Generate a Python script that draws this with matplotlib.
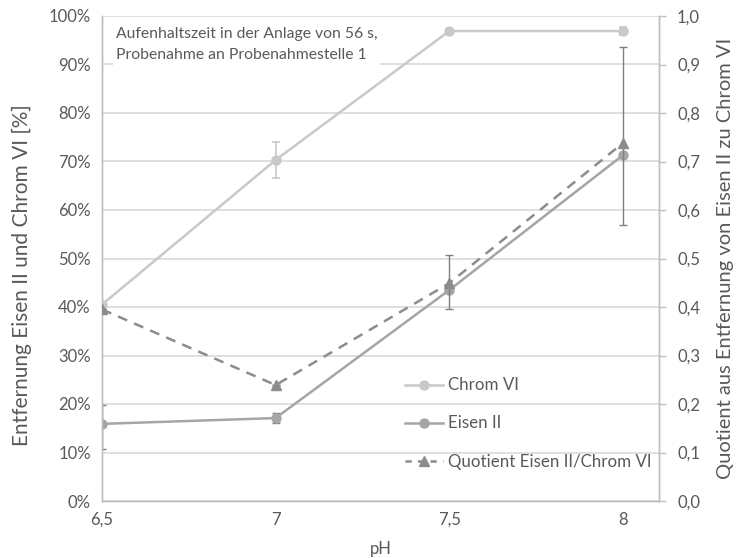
import matplotlib
matplotlib.use("Agg")
import matplotlib.pyplot as plt
from matplotlib.ticker import FixedLocator, FuncFormatter
from matplotlib.lines import Line2D

plt.rcParams['font.family'] = ['Lato', 'DejaVu Sans']

ph = [6.5, 7.0, 7.5, 8.0]
chrom = [40.5, 70.3, 96.9, 96.9]
chrom_err = [0.0, 3.7, 0.0, 0.8]
eisen = [15.9, 17.1, 43.5, 71.3]
eisen_err_low = [5.2, 1.1, 0.0, 0.0]
eisen_err_high = [3.9, 1.1, 0.0, 0.0]
quot = [0.395, 0.239, 0.449, 0.738]
quot_err_low = [0.0, 0.0, 0.053, 0.169]
quot_err_high = [0.0, 0.0, 0.058, 0.198]

xticks = [6.5, 7.0, 7.5, 8.0]
xlabels = ['6,5', '7', '7,5', '8']
yticks_left = [0, 10, 20, 30, 40, 50, 60, 70, 80, 90, 100]
yticks_right = [0.0, 0.1, 0.2, 0.3, 0.4, 0.5, 0.6, 0.7, 0.8, 0.9, 1.0]

c_chrom = '#C9C9C9'
c_eisen = '#A5A5A5'
c_quot = '#8C8C8C'
c_err = '#7F7F7F'
c_text = '#595959'
c_grid = '#D9D9D9'
c_axis = '#BFBFBF'

fig = plt.figure(figsize=(7.41, 5.58), dpi=100)
ax = fig.add_axes([102/741, 1-501/558, (659-102)/741, (501-16)/558])
ax2 = ax.twinx()

ax.set_xlim(6.5, 8.104)
ax.set_ylim(0, 100)
ax2.set_ylim(0, 1.0)

ax.yaxis.grid(True, color=c_grid, linewidth=1.2)
ax.set_axisbelow(True)

ax.errorbar(ph, chrom, yerr=chrom_err, color=c_chrom, marker='o', markersize=6.5,
            linewidth=1.8, ecolor=c_chrom, elinewidth=1.2, capsize=3, capthick=1.2, zorder=3)
ax.errorbar(ph, eisen, yerr=[eisen_err_low, eisen_err_high], color=c_eisen, marker='o',
            markersize=6.5, linewidth=1.8, ecolor=c_err, elinewidth=1.0, capsize=3,
            capthick=1.0, zorder=3)
ax2.errorbar(ph, quot, yerr=[quot_err_low, quot_err_high], color=c_quot, marker='^',
             markersize=6.5, linewidth=1.8, linestyle=(0, (4, 3)), ecolor=c_err,
             elinewidth=1.0, capsize=3, capthick=1.0, zorder=3)

ax.xaxis.set_major_locator(FixedLocator(xticks))
ax.set_xticklabels(xlabels)
ax.yaxis.set_major_locator(FixedLocator(yticks_left))
ax.yaxis.set_major_formatter(FuncFormatter(lambda v, p: f"{int(round(v))}%"))
ax2.yaxis.set_major_locator(FixedLocator(yticks_right))
ax2.yaxis.set_major_formatter(FuncFormatter(lambda v, p: f"{v:.1f}".replace('.', ',')))

for a in (ax, ax2):
    a.spines['top'].set_visible(False)
    for s in ('left', 'right', 'bottom'):
        a.spines[s].set_color(c_axis)
        a.spines[s].set_linewidth(1.0)
    a.tick_params(colors=c_text, labelsize=12, color=c_axis, length=5, width=1.0)
ax.tick_params(axis='x', length=0, pad=8)
ax.tick_params(axis='y', length=0, pad=8)
ax2.tick_params(axis='y', length=5, pad=8)

ax.set_xlabel('pH', color=c_text, fontsize=12, labelpad=9)
ax.set_ylabel('Entfernung Eisen II und Chrom VI [%]', color=c_text, fontsize=15)
ax.yaxis.set_label_coords(-0.125, 0.465)
ax2.set_ylabel('Quotient aus Entfernung von Eisen II zu Chrom VI', color=c_text,
               fontsize=14.5, labelpad=12)

ax.text(0.025, 0.978, 'Aufenhaltszeit in der Anlage von 56 s,\nProbenahme an Probenahmestelle 1',
        transform=ax.transAxes, ha='left', va='top', fontsize=11.3, color=c_text,
        linespacing=1.65, zorder=5,
        bbox=dict(facecolor='white', edgecolor='none', pad=2))

handles = [
    Line2D([], [], color=c_chrom, marker='o', markersize=6.5, linewidth=1.8),
    Line2D([], [], color=c_eisen, marker='o', markersize=6.5, linewidth=1.8),
    Line2D([], [], color=c_quot, marker='^', markersize=6.5, linewidth=1.8, linestyle=(0, (2.5, 2.5))),
]
labels = ['Chrom VI', 'Eisen II', 'Quotient Eisen II/Chrom VI']
leg = ax2.legend(handles, labels, loc='upper left', bbox_to_anchor=(397/741, 1-369/558),
                 bbox_transform=fig.transFigure, frameon=False, fontsize=12.2,
                 labelspacing=1.3, handlelength=2.2, handletextpad=0.3, borderpad=0)
for t in leg.get_texts():
    t.set_color(c_text)

fig.savefig('out.png', dpi=100)
